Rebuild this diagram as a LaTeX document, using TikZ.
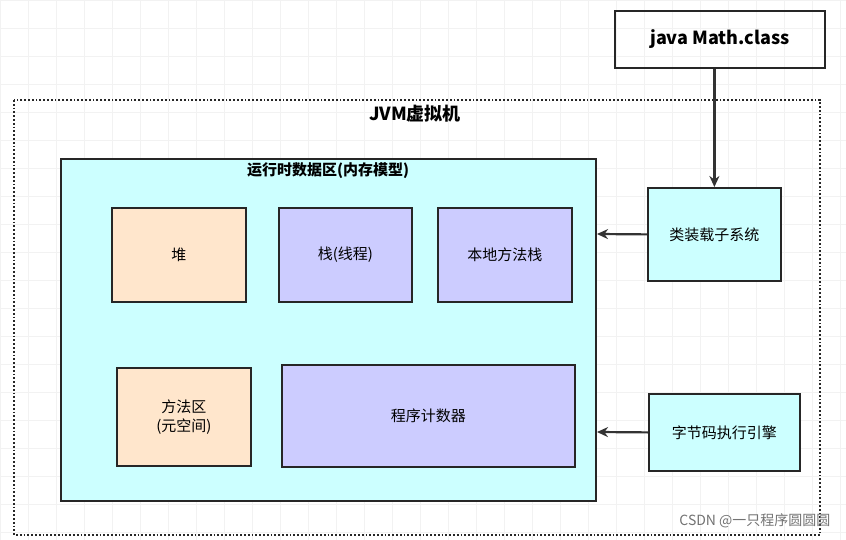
\documentclass[tikz,border=0pt]{standalone}
\usepackage{fontspec}
\setmainfont{Noto Sans CJK SC}
\usetikzlibrary{arrows.meta}
\definecolor{cy}{HTML}{CCFFFF}
\definecolor{pe}{HTML}{FFE6CC}
\definecolor{lv}{HTML}{CCCCFF}
\definecolor{ln}{HTML}{333333}
\tikzset{
 box/.style={draw=black!85,line width=1.8pt,anchor=north west,inner sep=0pt,align=center,font=\fontsize{15pt}{19pt}\selectfont},
 arr/.style={draw=ln,line width=2.2pt,-{Stealth[length=11pt,width=10pt]}}
}
\begin{document}
\begin{tikzpicture}[x=1pt,y=-1pt]
\useasboundingbox (0,0) rectangle (846,540);
\fill[white] (0,0) rectangle (846,540);
\foreach \i in {0,28,...,846} \draw[black!5] (\i,0)--(\i,540);
\foreach \j in {0,28,...,540} \draw[black!5] (0,\j)--(846,\j);
\node[box,minimum width=210pt,minimum height=57pt,font=\bfseries\fontsize{18pt}{21pt}\selectfont] (java) at (614,10) {java Math.class};
\draw[black!85,line width=1.8pt,dotted] (14,100) rectangle (820,535);
\node[font=\bfseries\fontsize{18pt}{21pt}\selectfont] (jvm) at (415,114) {JVM虚拟机};
\node[box,fill=cy,minimum width=535pt,minimum height=342pt] (rt) at (60,158) {};
\node[font=\bfseries\fontsize{15pt}{17pt}\selectfont] (rtt) at (328,171) {运行时数据区(内存模型)};
\node[box,fill=pe,minimum width=134pt,minimum height=94pt] (heap) at (111,207) {堆};
\node[box,fill=lv,minimum width=133pt,minimum height=94pt] (stack) at (278,207) {栈(线程)};
\node[box,fill=lv,minimum width=134pt,minimum height=94pt] (native) at (437,207) {本地方法栈};
\node[box,fill=pe,minimum width=134pt,minimum height=98pt] (meth) at (116,367) {方法区\\(元空间)};
\node[box,fill=lv,minimum width=293pt,minimum height=102pt] (pc) at (281,364) {程序计数器};
\node[box,fill=cy,minimum width=133pt,minimum height=93pt] (cl) at (647,187) {类装载子系统};
\node[box,fill=cy,minimum width=151pt,minimum height=77pt] (ex) at (648,393) {字节码执行引擎};
\coordinate (a1) at (597,234);
\coordinate (a2) at (597,432);
\draw[arr] (java.south -| cl.north) -- (cl.north);
\draw[arr] (cl.west) -- (a1);
\draw[arr] (ex.west) -- (a2);
\node[anchor=east,text=black!55,font=\fontsize{14pt}{16pt}\selectfont] (wm) at (834,521) {CSDN @一只程序圆圆圆};
\end{tikzpicture}
\end{document}
